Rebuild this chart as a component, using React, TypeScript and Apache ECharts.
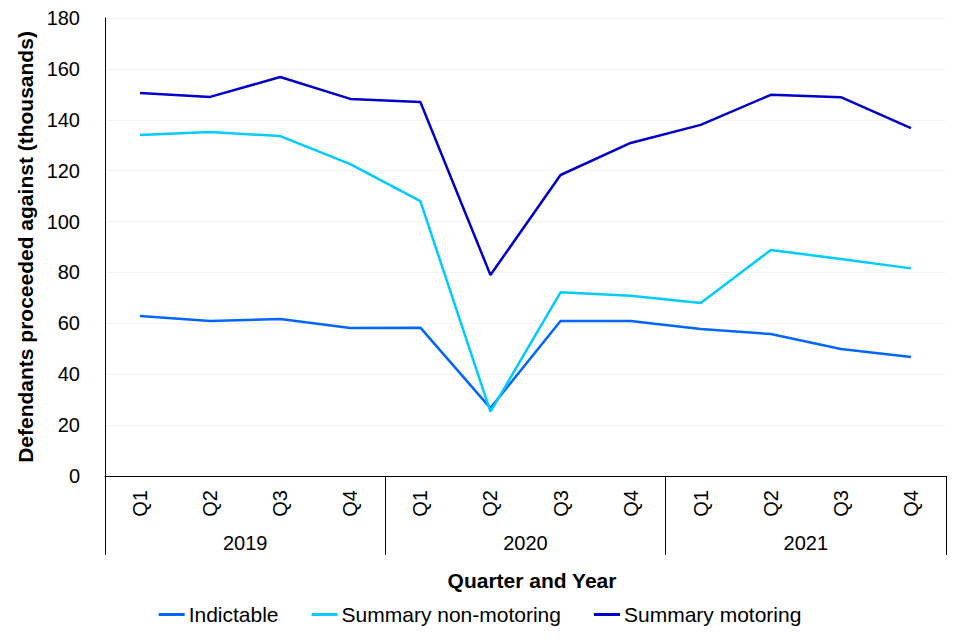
import React, { useEffect, useRef } from "react";
import * as echarts from "echarts";

const quarters = ["Q1", "Q2", "Q3", "Q4", "Q1", "Q2", "Q3", "Q4", "Q1", "Q2", "Q3", "Q4"];
const years = ["2019", "2020", "2021"];
const indictable = [62.9, 60.9, 61.7, 58.2, 58.3, 26.7, 60.9, 60.9, 57.8, 55.8, 49.9, 46.8];
const nonMotoring = [134.0, 135.2, 133.6, 122.6, 108.0, 25.3, 72.2, 70.8, 68.0, 88.8, 85.3, 81.6];
const motoring = [150.5, 149.0, 156.8, 148.2, 147.0, 79.0, 118.3, 130.9, 138.0, 149.8, 148.9, 136.7];
const yTicks = { min: 0, max: 180, interval: 20 };

const FONT = "'Liberation Sans', Arial, sans-serif";
const FS = 20;

export default function App() {
  const ref = useRef<HTMLDivElement>(null);
  useEffect(() => {
    if (!ref.current) return;
    const chart = echarts.init(ref.current, undefined, { renderer: "svg" });
    const mk = (name: string, data: number[], color: string) => ({
      name,
      type: "line",
      data,
      xAxisIndex: 0,
      symbol: "none",
      lineStyle: { color, width: 2.5 },
      itemStyle: { color },
    });
    chart.setOption({
      animation: false,
      backgroundColor: "#ffffff",
      textStyle: { fontFamily: FONT },
      grid: { left: 105, right: 14, top: 18, bottom: 164, containLabel: false },
      xAxis: [
        {
          type: "category",
          data: quarters,
          boundaryGap: true,
          axisLine: { show: true, lineStyle: { color: "#000", width: 1 } },
          axisTick: { show: false },
          axisLabel: { rotate: 90, margin: 14, color: "#000", fontSize: FS, fontFamily: FONT, interval: 0 },
          splitLine: { show: false },
        },
        {
          type: "category",
          data: years,
          position: "bottom",
          boundaryGap: true,
          axisLine: { show: false },
          axisTick: { show: true, length: 79, interval: 0, lineStyle: { color: "#000", width: 1 } },
          axisLabel: { margin: 57, color: "#000", fontSize: FS, fontFamily: FONT, interval: 0 },
          splitLine: { show: false },
        },
      ],
      yAxis: {
        type: "value",
        min: yTicks.min,
        max: yTicks.max,
        interval: yTicks.interval,
        name: "Defendants proceeded against (thousands)",
        nameLocation: "middle",
        nameGap: 54,
        nameTextStyle: { color: "#000", fontSize: 21, fontWeight: "bold", fontFamily: FONT },
        axisLine: { show: true, lineStyle: { color: "#000", width: 1 } },
        axisTick: { show: false },
        axisLabel: { margin: 25, color: "#000", fontSize: FS, fontFamily: FONT },
        splitLine: { show: true, lineStyle: { color: "#e6e6e6", type: "dotted", width: 1 } },
      },
      title: {
        text: "Quarter and Year",
        left: 527,
        textAlign: "center",
        top: 565,
        textStyle: { color: "#000", fontSize: 21, fontWeight: "bold", fontFamily: FONT },
      },
      legend: {
        show: true,
        left: "center",
        top: 599,
        itemWidth: 26,
        itemHeight: 3,
        itemGap: 33,
        icon: "rect",
        textStyle: { color: "#000", fontSize: 21, fontFamily: FONT, padding: [0, 0, 0, -1] },
        data: ["Indictable", "Summary non-motoring", "Summary motoring"],
      },
      series: [
        mk("Indictable", indictable, "#0066ff"),
        mk("Summary non-motoring", nonMotoring, "#00ccff"),
        mk("Summary motoring", motoring, "#0000cc"),
      ],
    });
    return () => chart.dispose();
  }, []);
  return <div ref={ref} style={{ position: "fixed", left: 0, top: 0, width: 960, height: 640 }} />;
}
